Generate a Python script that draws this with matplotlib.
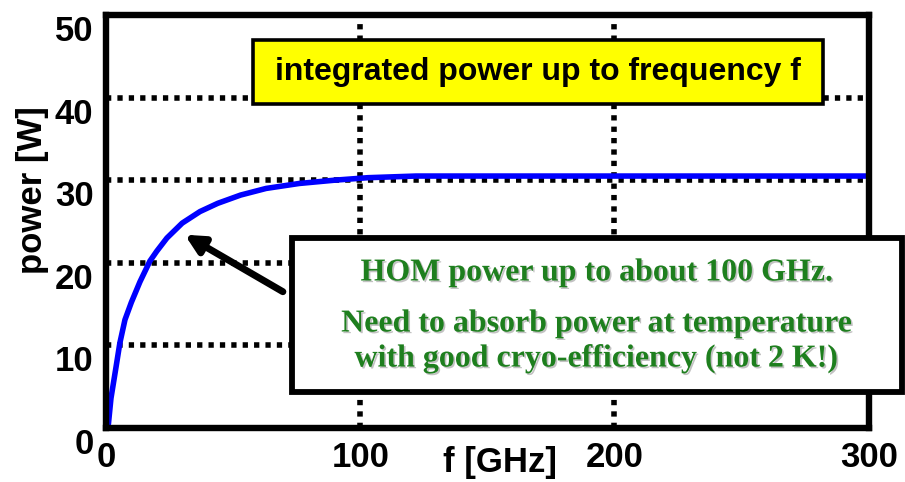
import numpy as np
import matplotlib
matplotlib.use('Agg')
import matplotlib.pyplot as plt
import matplotlib.patheffects as pe
from matplotlib.patches import Rectangle

# integrated HOM power vs frequency
freq_ghz = [0, 1, 2, 4, 5.5, 7.5, 10, 13.4, 17.3, 20, 24, 30, 37, 44, 53, 63,
            76, 90, 103, 122, 150, 200, 250, 300]
power_w = [0, 0.5, 3.6, 7.4, 10.3, 13.1, 15.2, 17.7, 20.2, 21.4, 23.0, 24.8,
           26.2, 27.2, 28.2, 29.0, 29.6, 30.0, 30.3, 30.5, 30.5, 30.5, 30.5, 30.5]

x_ticks = [0, 100, 200, 300]
y_ticks = [0, 10, 20, 30, 40, 50]

title_text = 'integrated power up to frequency f'
note_lines = ['HOM power up to about 100 GHz.',
              'Need to absorb power at temperature',
              'with good cryo-efficiency (not 2 K!)']

SANS = 'Liberation Sans'
SERIF = 'Liberation Serif'
GREEN = '#1e7f1e'

fig = plt.figure(figsize=(9.05, 4.82), dpi=100)
fig.patch.set_facecolor('white')
ax = fig.add_axes([0.117, 0.112, 0.843, 0.857])

ax.plot(freq_ghz, power_w, color='#0000ff', linewidth=4.0, zorder=3)

ax.set_xlim(0, 300)
ax.set_ylim(0, 50)
ax.set_xticks(x_ticks)
ax.set_yticks(y_ticks)
ax.set_xticklabels([str(t) for t in x_ticks], fontsize=25, fontweight='bold', family=SANS)
ax.set_yticklabels([str(t) for t in y_ticks], fontsize=25, fontweight='bold', family=SANS,
                   va='top')
ax.tick_params(axis='both', length=0)
ax.tick_params(axis='x', pad=9)
ax.tick_params(axis='y', pad=9)

ax.grid(True, color='black', linestyle=(0, (0.95, 1.1)), linewidth=4.0)
ax.set_axisbelow(True)
for sp in ax.spines.values():
    sp.set_linewidth(4.6)
    sp.set_zorder(4)

ax.set_xlabel('f [GHz]', fontsize=25, fontweight='bold', family=SANS)
ax.xaxis.set_label_coords(0.516, -0.044)
ax.set_ylabel('power [W]', fontsize=25, fontweight='bold', family=SANS)
ax.yaxis.set_label_coords(-0.074, 0.576)

# yellow title box
fig.patches.append(Rectangle((0.2796, 0.784), 0.63, 0.133, transform=fig.transFigure,
                             facecolor='#ffff00', edgecolor='black', linewidth=2.6,
                             zorder=5))
fig.text(0.2796 + 0.315, 0.784 + 0.0665, title_text, ha='center', va='center',
         fontsize=23, fontweight='bold', family=SANS, zorder=6)

# white note box
fig.patches.append(Rectangle((0.323, 0.187), 0.674, 0.320, transform=fig.transFigure,
                             facecolor='white', edgecolor='black', linewidth=4.2,
                             zorder=5))
shadow = [pe.SimplePatchShadow(offset=(1.2, -1.2), shadow_rgbFace='#9a9a9a', alpha=0.6),
          pe.Normal()]
for line, ypix in zip(note_lines, [273, 324, 359]):
    fig.text(597 / 905, 1 - ypix / 482, line, ha='center', va='center', fontsize=23,
             fontweight='bold', family=SERIF, color=GREEN, zorder=6, path_effects=shadow)

# arrow pointing at the knee of the curve
ax.annotate('', xy=(31, 23.4), xytext=(69.6, 16.5),
            arrowprops=dict(arrowstyle='-|>,head_length=1.1,head_width=0.55',
                            color='black', linewidth=5, shrinkA=0, shrinkB=0),
            zorder=6)

fig.savefig('out.png', dpi=100, facecolor='white')
